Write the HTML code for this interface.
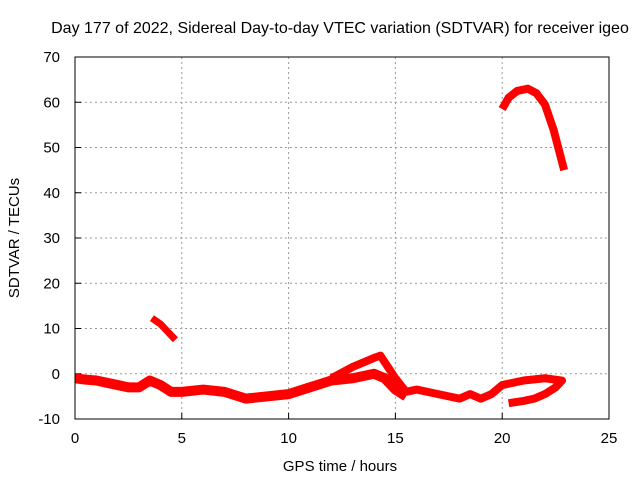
<!DOCTYPE html>
<html><head><meta charset="utf-8"><style>
body{margin:0;background:#fff;font-family:"Liberation Sans",sans-serif}
svg text{font-family:"Liberation Sans",sans-serif;font-size:15px;fill:#000}
</style></head><body>
<svg id="chart" width="640" height="480">
<text x="340" y="33" text-anchor="middle" style="font-size:16px">Day 177 of 2022, Sidereal Day-to-day VTEC variation (SDTVAR) for receiver igeo</text>
<text x="340" y="471" text-anchor="middle">GPS time / hours</text>
<text transform="translate(19,238) rotate(-90)" text-anchor="middle">SDTVAR / TECUs</text>
<g id="grid"></g><g id="ticks"></g><g id="series"></g>
<rect x="75" y="57" width="534" height="362" fill="none" stroke="#000"/>
</svg>
<script>
const xTicks=[0,5,10,15,20,25];
const yTicks=[-10,0,10,20,30,40,50,60,70];
const segA_x=[0,0.5,1,1.5,2,2.5,3,3.5,4,4.5,5,6,7,8,9,10,11,12,13,14,14.5,15,15.5];
const segA_y=[-1,-1.3,-1.5,-2,-2.5,-3,-3,-1.5,-2.5,-4,-4,-3.5,-4,-5.5,-5,-4.5,-3,-1.5,-1,0,-1,-3.5,-5];
const segB_x=[12,13,14,14.3,15,15.5];
const segB_y=[-1,1.5,3.5,4,-1,-4];
const segC_x=[15.5,16,17,18,18.5,19,19.5,20,21,22,22.8,22.5,22,21.5,21,20.3];
const segC_y=[-4,-3.5,-4.5,-5.5,-4.5,-5.5,-4.5,-2.5,-1.5,-1,-1.5,-3,-4.5,-5.5,-6,-6.5];
const segD_x=[3.6,4,4.3,4.7];
const segD_y=[12.3,11,9.5,7.5];
const segE_x=[20,20.3,20.7,21.2,21.6,22,22.4,22.9];
const segE_y=[58.5,61,62.5,63,62,59.5,54,45];
const NS="http://www.w3.org/2000/svg";
const X=h=>75+h*534/25, Y=v=>419-(v+10)*362/80;
const grid=document.getElementById('grid'),tk=document.getElementById('ticks'),ser=document.getElementById('series');
function mk(tag,attrs,parent){const e=document.createElementNS(NS,tag);for(const k in attrs)e.setAttribute(k,attrs[k]);parent.appendChild(e);return e;}
xTicks.forEach(t=>{
 if(t>0&&t<25){const g=mk('line',{x1:X(t),x2:X(t),y1:57,y2:419,stroke:'#999','stroke-dasharray':'2,3'},grid);
 
 }
 const l=mk('line',{x1:X(t),x2:X(t),y1:419,y2:413,stroke:'#000'},tk);
 
 
 const tx=mk('text',{x:X(t),y:443,'text-anchor':'middle'},tk);tx.textContent=t;
 
 
});
yTicks.forEach(t=>{
 if(t>-10&&t<70){const g=mk('line',{x1:75,x2:609,y1:Y(t),y2:Y(t),stroke:'#999','stroke-dasharray':'2,3'},grid);
 
 }
 const l=mk('line',{x1:75,x2:81,y1:Y(t),y2:Y(t),stroke:'#000'},tk);
 
 
 const tx=mk('text',{x:60,y:Y(t)+5,'text-anchor':'end'},tk);tx.textContent=t;
 
 
});
[[segA_x,segA_y,'series-main-band',10],[segB_x,segB_y,'series-upper-branch',8],[segC_x,segC_y,'series-evening-loop',8],[segD_x,segD_y,'series-short-segment',7],[segE_x,segE_y,'series-high-arc',8]].forEach(s=>{
 const p=mk('polyline',{points:s[0].map((h,i)=>X(h)+','+Y(s[1][i])).join(' '),fill:'none',stroke:'#f00','stroke-width':s[3],'stroke-linejoin':'round','stroke-linecap':'butt'},ser);
 
 
});
</script>
</body></html>
